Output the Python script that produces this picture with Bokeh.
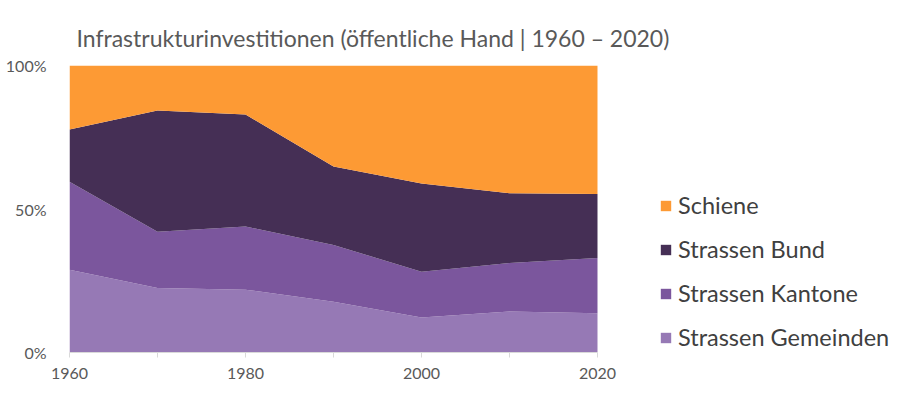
from bokeh.plotting import figure
from bokeh.models import FixedTicker, Legend, LegendItem, Range1d
from bokeh.embed import file_html
from bokeh.resources import INLINE

years = [1960, 1970, 1980, 1990, 2000, 2010, 2020]
gemeinden = [28.8, 22.5, 21.9, 17.7, 12.2, 14.3, 13.7]
kantone = [30.7, 19.6, 22.0, 19.8, 15.9, 16.9, 19.2]
bund = [18.2, 42.2, 39.0, 27.3, 30.8, 24.3, 22.3]
schiene = [22.3, 15.7, 17.1, 35.2, 41.1, 44.5, 44.8]

series = ["Strassen Gemeinden", "Strassen Kantone", "Strassen Bund", "Schiene"]
colors = ["#9679B5", "#7B569D", "#452F55", "#FD9A34"]

totals = [a + b + c + d for a, b, c, d in zip(gemeinden, kantone, bund, schiene)]
data = {"year": years}
for name, vals in zip(series, [gemeinden, kantone, bund, schiene]):
    data[name] = [v / t * 100 for v, t in zip(vals, totals)]

TXT = "#595959"
FONT = "Lato"

W, H = 897, 390
B_LEFT, B_RIGHT, B_TOP, B_BOTTOM = 69, 0, 65, 38
# frame spans plot + legend area; x range extended so the legend fits inside the frame
PLOT_PX = 528.0
FRAME_PX = float(W - B_LEFT - B_RIGHT)
x_end = years[0] + (years[-1] - years[0]) * FRAME_PX / PLOT_PX

p = figure(width=W, height=H, output_backend="svg", toolbar_location=None,
           x_range=Range1d(years[0], x_end), y_range=Range1d(0, 100),
           min_border_left=B_LEFT, min_border_right=B_RIGHT, min_border_top=B_TOP,
           min_border_bottom=B_BOTTOM)

rs = p.varea_stack(stackers=series, x="year", color=colors, source=data)

p.title.text = "Infrastrukturinvestitionen (öffentliche Hand | 1960 – 2020)"
p.title.text_font = FONT
p.title.text_font_size = "23px"
p.title.text_font_style = "normal"
p.title.text_color = TXT
p.title.align = "left"
p.title.vertical_align = "top"
p.title.offset = 7
p.title.standoff = 24

p.grid.visible = False
p.outline_line_color = None
p.background_fill_color = "white"
p.border_fill_color = "white"

p.xaxis.ticker = FixedTicker(ticks=years)
p.xaxis.bounds = (years[0], years[-1])
p.xaxis.major_label_overrides = {1970: "", 1990: "", 2010: ""}
p.xaxis.axis_line_color = "#D9D9D9"
p.xaxis.major_tick_line_color = "#D9D9D9"
p.xaxis.major_tick_in = 0
p.xaxis.major_tick_out = 5
p.xaxis.minor_tick_line_color = None
p.xaxis.major_label_text_font = FONT
p.xaxis.major_label_text_font_size = "16px"
p.xaxis.major_label_text_color = TXT
p.xaxis.major_label_standoff = 10

p.yaxis.ticker = FixedTicker(ticks=[0, 50, 100])
p.yaxis.major_label_overrides = {0: "0%", 50: "50%", 100: "100%"}
p.yaxis.axis_line_color = None
p.yaxis.major_tick_line_color = None
p.yaxis.minor_tick_line_color = None
p.yaxis.major_label_text_font = FONT
p.yaxis.major_label_text_font_size = "16px"
p.yaxis.major_label_text_color = TXT
p.yaxis.major_label_standoff = 17

items = [LegendItem(label=series[i], renderers=[rs[i]]) for i in [3, 2, 1, 0]]
legend = Legend(items=items, location=(590, 1), orientation="vertical",
                glyph_width=13, glyph_height=13, label_standoff=6,
                label_text_font=FONT, label_text_font_size="23.5px",
                label_text_color="#404040", label_height=26, spacing=16,
                padding=0, margin=0, border_line_color=None,
                background_fill_alpha=0)
p.add_layout(legend, "center")

open("out.html", "w").write(file_html(p, INLINE))
